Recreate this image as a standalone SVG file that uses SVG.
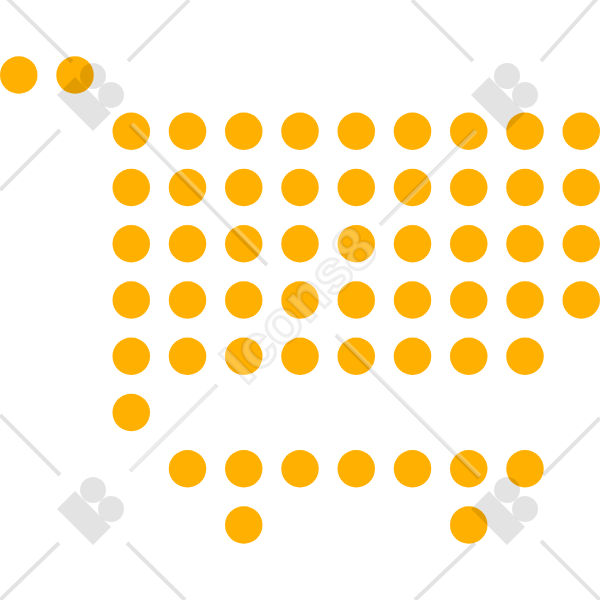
<svg xmlns="http://www.w3.org/2000/svg" width="600" height="600" viewBox="0 0 600 600">
<defs>
<style>
.d{fill:#ffb000}
.l{stroke:#000;stroke-opacity:.11;stroke-width:4;fill:none}
.w{stroke:#fff;stroke-opacity:.3;stroke-width:4;fill:none}
.m{fill:#000;fill-opacity:.11}
.t{font-family:"Liberation Sans",Arial,sans-serif;font-size:60px;font-weight:700;fill:#fff;fill-opacity:.25;stroke:#000;stroke-opacity:.07;stroke-width:3.5;paint-order:stroke}
</style>
<circle id="c" r="18.75" class="d"/>
<g id="logo"><path class="m" d="M57 95 75 77 111 113 93 131Z"/><circle class="m" cx="93" cy="76" r="13"/><circle class="m" cx="111" cy="95" r="13"/></g>
</defs>
<g id="cart">
<use href="#c" x="18.75" y="75"/><use href="#c" x="75" y="75"/>
<g id="r1"><use href="#c" x="131.25" y="131.25"/><use href="#c" x="187.5" y="131.25"/><use href="#c" x="243.75" y="131.25"/><use href="#c" x="300" y="131.25"/><use href="#c" x="356.25" y="131.25"/><use href="#c" x="412.5" y="131.25"/><use href="#c" x="468.75" y="131.25"/><use href="#c" x="525" y="131.25"/><use href="#c" x="581.25" y="131.25"/></g>
<g id="r2"><use href="#c" x="131.25" y="187.5"/><use href="#c" x="187.5" y="187.5"/><use href="#c" x="243.75" y="187.5"/><use href="#c" x="300" y="187.5"/><use href="#c" x="356.25" y="187.5"/><use href="#c" x="412.5" y="187.5"/><use href="#c" x="468.75" y="187.5"/><use href="#c" x="525" y="187.5"/><use href="#c" x="581.25" y="187.5"/></g>
<g id="r3"><use href="#c" x="131.25" y="243.75"/><use href="#c" x="187.5" y="243.75"/><use href="#c" x="243.75" y="243.75"/><use href="#c" x="300" y="243.75"/><use href="#c" x="356.25" y="243.75"/><use href="#c" x="412.5" y="243.75"/><use href="#c" x="468.75" y="243.75"/><use href="#c" x="525" y="243.75"/><use href="#c" x="581.25" y="243.75"/></g>
<g id="r4"><use href="#c" x="131.25" y="300"/><use href="#c" x="187.5" y="300"/><use href="#c" x="243.75" y="300"/><use href="#c" x="300" y="300"/><use href="#c" x="356.25" y="300"/><use href="#c" x="412.5" y="300"/><use href="#c" x="468.75" y="300"/><use href="#c" x="525" y="300"/><use href="#c" x="581.25" y="300"/></g>
<g id="r5"><use href="#c" x="131.25" y="356.25"/><use href="#c" x="187.5" y="356.25"/><use href="#c" x="243.75" y="356.25"/><use href="#c" x="300" y="356.25"/><use href="#c" x="356.25" y="356.25"/><use href="#c" x="412.5" y="356.25"/><use href="#c" x="468.75" y="356.25"/><use href="#c" x="525" y="356.25"/></g>
<use href="#c" x="131.25" y="412.5"/>
<g id="r7"><use href="#c" x="187.5" y="468.75"/><use href="#c" x="243.75" y="468.75"/><use href="#c" x="300" y="468.75"/><use href="#c" x="356.25" y="468.75"/><use href="#c" x="412.5" y="468.75"/><use href="#c" x="468.75" y="468.75"/><use href="#c" x="525" y="468.75"/></g>
<use href="#c" x="243.75" y="525"/><use href="#c" x="468.75" y="525"/>
</g>
<g id="watermark">
<use href="#logo"/><use href="#logo" x="414"/><use href="#logo" y="414"/><use href="#logo" x="414" y="414"/>
<path class="l" d="M4 -5 72 62M189 0 128 61M60 130 0 190M412 0 473 61M600 -5 541 61M0 415 60 475M59 543 0 600M127 543 185 600M541 541 600 600M600 418 543 475M475 543 415 600M217 385 130 471M475 130 380 225"/>
<path class="l" d="M130 125 267 265M336 335 479 478"/>
<path class="w" d="M132 124 269 262M338 334 480 476M476 131 381 226M216 386 130 470"/>
<text class="t" transform="translate(246 386) rotate(-45)">Icons8</text>
</g>
</svg>
